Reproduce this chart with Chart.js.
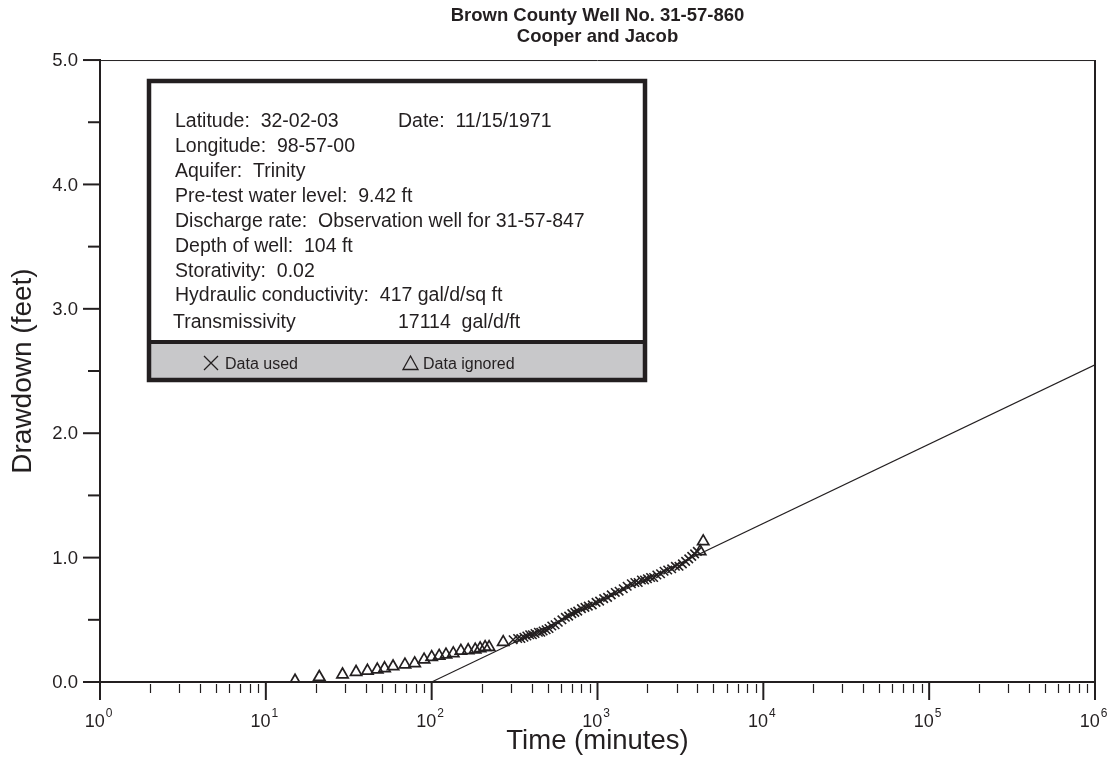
<!DOCTYPE html>
<html>
<head>
<meta charset="utf-8">
<title>Brown County Well No. 31-57-860</title>
<script src="https://cdn.jsdelivr.net/npm/chart.js@4.4.1/dist/chart.umd.min.js"></script>
<style>
  html, body { margin: 0; padding: 0; background: #fff; }
  #wrap { width: 1117px; height: 775px; }
</style>
</head>
<body>
<div id="wrap"><canvas id="wellChart" width="1117" height="775"></canvas></div>
<script>
// minutes / feet
const usedTime = [310, 330, 345, 360, 375, 390, 405, 420, 440, 455, 470, 490, 510, 530, 555, 580, 610, 640, 670, 700,
  730, 760, 800, 840, 880, 930, 980, 1030, 1090, 1150, 1210, 1280, 1350, 1430, 1510, 1600, 1680, 1760, 1840, 1920,
  2000, 2090, 2180, 2280, 2400, 2520, 2650, 2800, 2950, 3100, 3250, 3400, 3550, 3700, 3850, 4000];
const usedDrawdown = [0.34, 0.35, 0.35, 0.36, 0.37, 0.38, 0.38, 0.39, 0.40, 0.40, 0.41, 0.42, 0.43, 0.45, 0.46, 0.48, 0.50, 0.52, 0.53, 0.55,
  0.56, 0.57, 0.59, 0.60, 0.61, 0.62, 0.64, 0.65, 0.67, 0.68, 0.70, 0.72, 0.73, 0.75, 0.77, 0.79, 0.80, 0.80, 0.82, 0.82,
  0.83, 0.84, 0.84, 0.86, 0.87, 0.89, 0.90, 0.91, 0.93, 0.93, 0.95, 0.97, 0.99, 1.01, 1.03, 1.05];

const ignoredTime = [15, 21, 29, 35, 41, 47, 52, 58.5, 69, 79, 90, 100, 111, 122, 135, 150, 166, 183, 196, 210, 222, 270, 4160, 4340];
const ignoredDrawdown = [0.01, 0.04, 0.06, 0.08, 0.09, 0.10, 0.11, 0.125, 0.14, 0.15, 0.18, 0.20, 0.21, 0.22, 0.23, 0.25, 0.255, 0.26, 0.27, 0.28, 0.28, 0.32, 1.05, 1.13];

// Cooper-Jacob straight line
const fitTime = [100, 1000000];
const fitDrawdown = [0, 2.55];

const xExponents = [0, 1, 2, 3, 4, 5, 6];
const xMinorSteps = [2, 3, 4, 5, 6, 7, 8, 9];
const yMajorTicks = [0, 1, 2, 3, 4, 5];
const yMinorTicks = [0.5, 1.5, 2.5, 3.5, 4.5];

const chartTitle = ['Brown County Well No. 31-57-860', 'Cooper and Jacob'];
const infoLines = [
  'Latitude:  32-02-03',
  'Longitude:  98-57-00',
  'Aquifer:  Trinity',
  'Pre-test water level:  9.42 ft',
  'Discharge rate:  Observation well for 31-57-847',
  'Depth of well:  104 ft',
  'Storativity:  0.02',
  'Hydraulic conductivity:  417 gal/d/sq ft',
  'Transmissivity'
];
const infoDate = 'Date:  11/15/1971';
const infoTransmissivity = '17114  gal/d/ft';
const legendUsed = 'Data used';
const legendIgnored = 'Data ignored';

const ink = '#231f20';
const fontFamily = "'Liberation Sans', Arial, Helvetica, sans-serif";

function toPoints(xs, ys) {
  return xs.map((v, i) => ({x: v, y: ys[i]}));
}

const axesPlugin = {
  id: 'axesPlugin',
  afterDraw(chart) {
    const {ctx, chartArea: a, scales: {x, y}} = chart;
    ctx.save();
    ctx.strokeStyle = ink;
    ctx.fillStyle = ink;

    // frame: thin top, heavier right
    ctx.lineWidth = 1;
    ctx.beginPath();
    ctx.moveTo(a.left, a.top + 0.5);
    ctx.lineTo(a.right, a.top + 0.5);
    ctx.stroke();
    ctx.lineWidth = 2;
    ctx.beginPath();
    ctx.moveTo(a.right, a.top);
    ctx.lineTo(a.right, a.bottom);
    ctx.stroke();

    // x ticks
    ctx.lineWidth = 1.2;
    xExponents.slice(0, -1).forEach(e => {
      xMinorSteps.forEach(k => {
        const px = Math.round(x.getPixelForValue(k * Math.pow(10, e))) + 0.5;
        ctx.beginPath();
        ctx.moveTo(px, a.bottom + 2);
        ctx.lineTo(px, a.bottom + 11);
        ctx.stroke();
      });
    });
    ctx.lineWidth = 2;
    xExponents.forEach(e => {
      const px = x.getPixelForValue(Math.pow(10, e));
      ctx.beginPath();
      ctx.moveTo(px, a.bottom);
      ctx.lineTo(px, a.bottom + 18);
      ctx.stroke();

      ctx.font = '18px ' + fontFamily;
      const base = '10';
      const wb = ctx.measureText(base).width;
      ctx.font = '12px ' + fontFamily;
      const sup = String(e);
      const ws = ctx.measureText(sup).width;
      const start = px - (wb + ws) / 2 - 2;
      ctx.textAlign = 'left';
      ctx.textBaseline = 'alphabetic';
      ctx.font = '18px ' + fontFamily;
      ctx.fillText(base, start, a.bottom + 45);
      ctx.font = '12px ' + fontFamily;
      ctx.fillText(sup, start + wb + 1, a.bottom + 35);
    });

    // y ticks
    ctx.lineWidth = 2;
    yMinorTicks.forEach(v => {
      const py = y.getPixelForValue(v);
      ctx.beginPath();
      ctx.moveTo(a.left - 12, py);
      ctx.lineTo(a.left, py);
      ctx.stroke();
    });
    ctx.font = '18.5px ' + fontFamily;
    ctx.textAlign = 'right';
    ctx.textBaseline = 'middle';
    yMajorTicks.forEach(v => {
      const py = y.getPixelForValue(v);
      ctx.beginPath();
      ctx.moveTo(a.left - 17, py);
      ctx.lineTo(a.left, py);
      ctx.stroke();
      ctx.fillText(v.toFixed(1), a.left - 22, py + 1);
    });
    ctx.restore();
  }
};

const infoBoxPlugin = {
  id: 'infoBoxPlugin',
  afterDraw(chart) {
    const ctx = chart.ctx;
    const bx = 149, by = 81, bw = 496, bh = 299, split = 342;
    ctx.save();
    ctx.fillStyle = '#ffffff';
    ctx.fillRect(bx, by, bw, bh);
    ctx.fillStyle = '#c8c8ca';
    ctx.fillRect(bx, split, bw, by + bh - split);
    ctx.strokeStyle = ink;
    ctx.lineWidth = 4.5;
    ctx.strokeRect(bx, by, bw, bh);
    ctx.lineWidth = 4;
    ctx.beginPath();
    ctx.moveTo(bx - 2, split);
    ctx.lineTo(bx + bw + 2, split);
    ctx.stroke();

    ctx.fillStyle = ink;
    ctx.font = '19.5px ' + fontFamily;
    ctx.textAlign = 'left';
    ctx.textBaseline = 'alphabetic';
    const baselines = [127, 152, 177, 202, 227, 252, 277, 301, 328];
    infoLines.forEach((t, i) => {
      ctx.fillText(t, i === infoLines.length - 1 ? 173 : 175, baselines[i]);
    });
    ctx.fillText(infoDate, 398, baselines[0]);
    ctx.fillText(infoTransmissivity, 398, baselines[8]);

    // legend row
    const ly = 363;
    ctx.lineWidth = 1.3;
    ctx.beginPath();
    ctx.moveTo(204, ly - 7); ctx.lineTo(218, ly + 7);
    ctx.moveTo(218, ly - 7); ctx.lineTo(204, ly + 7);
    ctx.stroke();
    ctx.beginPath();
    ctx.moveTo(410.5, ly - 7); ctx.lineTo(418, ly + 6.5); ctx.lineTo(403, ly + 6.5); ctx.closePath();
    ctx.stroke();
    ctx.font = '16px ' + fontFamily;
    ctx.fillText(legendUsed, 225, ly + 6);
    ctx.fillText(legendIgnored, 423, ly + 6);
    ctx.restore();
  }
};

new Chart(document.getElementById('wellChart'), {
  type: 'scatter',
  data: {
    datasets: [
      {
        label: 'Straight line',
        data: toPoints(fitTime, fitDrawdown),
        showLine: true,
        borderColor: ink,
        borderWidth: 1.1,
        pointRadius: 0
      },
      {
        label: legendUsed,
        data: toPoints(usedTime, usedDrawdown),
        pointStyle: 'crossRot',
        pointRadius: 6,
        borderColor: ink,
        borderWidth: 1.6,
        backgroundColor: ink
      },
      {
        label: legendIgnored,
        data: toPoints(ignoredTime, ignoredDrawdown),
        pointStyle: 'triangle',
        pointRadius: 6.5,
        borderColor: ink,
        borderWidth: 1.7,
        backgroundColor: 'rgba(0,0,0,0)'
      }
    ]
  },
  options: {
    responsive: false,
    animation: false,
    layout: { padding: { left: 0, right: 22, top: 0, bottom: 0 } },
    plugins: {
      legend: { display: false },
      tooltip: { enabled: false },
      title: {
        display: true,
        fullSize: false,
        text: chartTitle,
        color: ink,
        font: { family: fontFamily, size: 18.5, weight: 'bold', lineHeight: 1.12 },
        padding: { top: 6, bottom: 12.6 }
      }
    },
    scales: {
      x: {
        type: 'logarithmic',
        min: 1,
        max: 1000000,
        grid: { display: false },
        border: { display: true, color: ink, width: 2 },
        ticks: { display: false },
        title: {
          display: true,
          text: 'Time (minutes)',
          color: ink,
          font: { family: fontFamily, size: 27.5, lineHeight: 1.2 },
          padding: { top: 0, bottom: 17 }
        },
        afterFit(scale) { scale.height = 93; }
      },
      y: {
        min: 0,
        max: 5,
        grid: { display: false },
        border: { display: true, color: ink, width: 2 },
        ticks: { display: false },
        title: {
          display: true,
          text: 'Drawdown (feet)',
          color: ink,
          font: { family: fontFamily, size: 28, lineHeight: 1.2 },
          padding: { top: 6, bottom: 0 }
        },
        afterFit(scale) { scale.width = 100; }
      }
    }
  },
  plugins: [axesPlugin, infoBoxPlugin]
});
</script>
</body>
</html>
